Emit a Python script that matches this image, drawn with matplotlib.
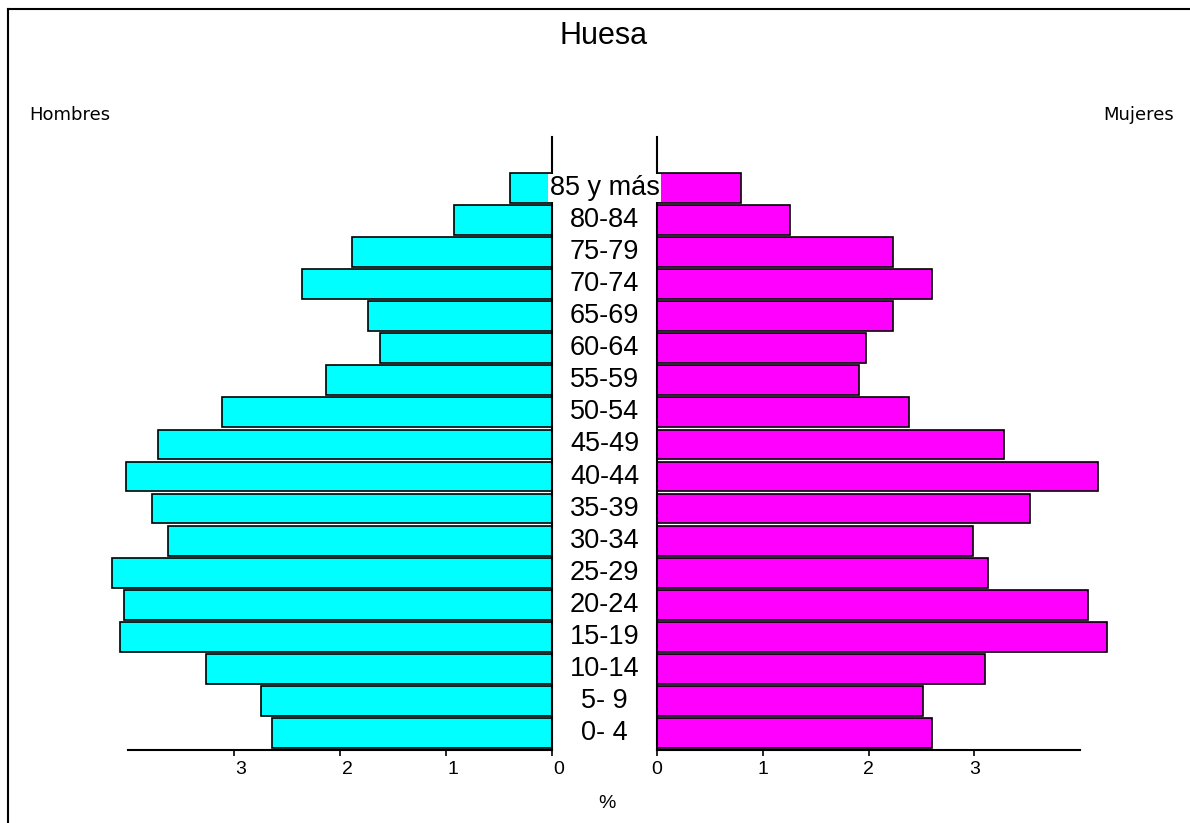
import matplotlib
matplotlib.use('Agg')
import matplotlib.pyplot as plt
from matplotlib.transforms import blended_transform_factory, ScaledTranslation
from matplotlib.lines import Line2D

# grupos de edad, de abajo (0-4) hacia arriba (85 y más)
grupos = ['0- 4', '5- 9', '10-14', '15-19', '20-24', '25-29', '30-34', '35-39',
          '40-44', '45-49', '50-54', '55-59', '60-64', '65-69', '70-74',
          '75-79', '80-84', '85 y más']

# porcentajes
hombres = [2.64, 2.75, 3.26, 4.08, 4.04, 4.15, 3.62, 3.77, 4.02, 3.72,
           3.11, 2.13, 1.62, 1.74, 2.36, 1.89, 0.92, 0.40]
mujeres = [2.60, 2.52, 3.10, 4.26, 4.08, 3.13, 2.99, 3.53, 4.17, 3.28,
           2.38, 1.91, 1.98, 2.23, 2.60, 2.23, 1.26, 0.79]

ticks = [0, 1, 2, 3]

narrow = ['Liberation Sans Narrow', 'Liberation Sans', 'DejaVu Sans']

W, H = 1190, 823
fig = plt.figure(figsize=(W / 100, H / 100), dpi=100)

bottom = (H - 750) / H
height = (750 - 137) / H
ax_h = fig.add_axes([128 / W, bottom, (552 - 128) / W, height])
ax_m = fig.add_axes([657 / W, bottom, (1080 - 657) / W, height])

pos = list(range(len(grupos)))

ax_h.barh(pos, hombres, height=0.93, color='#00FFFF', edgecolor='black',
          linewidth=1.2, clip_on=False)
ax_m.barh(pos, mujeres, height=0.93, color='#FF00FF', edgecolor='black',
          linewidth=1.2, clip_on=False)

ax_h.set_xlim(4, 0)
ax_m.set_xlim(0, 4)

for ax in (ax_h, ax_m):
    ax.set_ylim(-0.53, 18.59)
    ax.set_yticks([])
    ax.set_xticks(ticks)
    ax.set_xticklabels([str(t) for t in ticks], family=narrow, fontsize=14)
    ax.tick_params(axis='x', direction='out', length=4, width=1.2, pad=4)
    ax.spines['top'].set_visible(False)
    ax.spines['bottom'].set_linewidth(1.5)
    ax.patch.set_visible(False)

ax_h.spines['left'].set_visible(False)
ax_h.spines['right'].set_linewidth(1.5)
ax_m.spines['right'].set_visible(False)
ax_m.spines['left'].set_linewidth(1.5)

# las etiquetas del lado izquierdo van algo desplazadas a la derecha
for lab in ax_h.get_xticklabels():
    lab.set_transform(lab.get_transform() + ScaledTranslation(7 / 100, 0, fig.dpi_scale_trans))

# etiquetas de edad en el centro
trans = blended_transform_factory(fig.transFigure, ax_h.transData)
for i, g in enumerate(grupos):
    fig.text(604.5 / W, i, g, transform=trans, ha='center', va='center',
             family=narrow, fontsize=19.5, zorder=5,
             bbox=dict(facecolor='white', edgecolor='none', pad=1))

fig.text(604 / W, 1 - 36 / H, 'Huesa', ha='center', va='center',
         family=['Liberation Sans', 'DejaVu Sans'], fontsize=22)
fig.text(70 / W, 1 - 115 / H, 'Hombres', ha='center', va='center',
         family='DejaVu Sans', fontsize=13)
fig.text(1139 / W, 1 - 115 / H, 'Mujeres', ha='center', va='center',
         family='DejaVu Sans', fontsize=13)
fig.text(607 / W, 1 - 803 / H, '%', ha='center', va='center',
         family=narrow, fontsize=14)

# marco superior e izquierdo
fig.add_artist(Line2D([8 / W, 1], [1 - 9 / H, 1 - 9 / H], color='black', linewidth=1.5))
fig.add_artist(Line2D([8 / W, 8 / W], [0, 1 - 9 / H], color='black', linewidth=1.5))

fig.savefig('out.png', dpi=100)
